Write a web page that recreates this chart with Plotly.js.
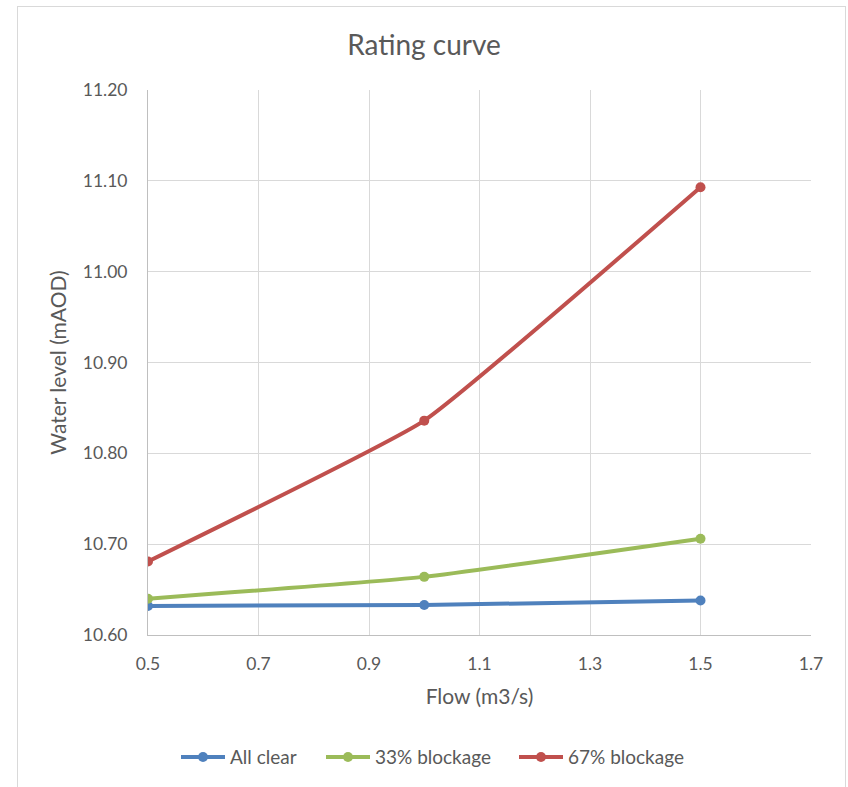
<!DOCTYPE html>
<html><head><meta charset="utf-8">
<script src="https://cdn.plot.ly/plotly-3.0.1.min.js"></script>
<style>
html,body{margin:0;padding:0;background:#fff;}
#wrap{position:relative;width:848px;height:787px;}
#chart{position:absolute;left:0;top:0;width:848px;height:787px;}
#border{position:absolute;left:17px;top:6px;width:829px;height:790px;border:1px solid #d9d9d9;box-sizing:border-box;pointer-events:none;}
</style></head>
<body>
<div id="wrap"><div id="chart"></div><div id="border"></div></div>
<script>
const flow = [0.5, 1.0, 1.5];
const allClear = [10.632, 10.633, 10.638];
const block33 = [10.640, 10.664, 10.706];
const block67 = [10.681, 10.836, 11.093];
const seriesNames = ['All clear', '33% blockage', '67% blockage'];
const colors = ['#4f81bd', '#9bbb59', '#c0504d'];
const xTicks = [0.5, 0.7, 0.9, 1.1, 1.3, 1.5, 1.7];
const yTicks = [10.6, 10.7, 10.8, 10.9, 11.0, 11.1, 11.2];

const FONT = 'Lato, "Open Sans", sans-serif';
const values = [allClear, block33, block67];
const legendIds = ['legend', 'legend2', 'legend3'];
const traces = values.map((v, i) => ({
  x: flow, y: v, name: seriesNames[i], type: 'scatter', mode: 'lines+markers',
  legend: legendIds[i],
  line: {color: colors[i], width: 4, shape: 'spline', smoothing: 0.35},
  marker: {color: colors[i], size: 10}
}));

const legendBase = {orientation: 'h', xanchor: 'left', y: -0.222, yanchor: 'middle', itemwidth: 44,
  font: {size: 19, color: '#595959', family: FONT}, bgcolor: 'rgba(0,0,0,0)'};
const legX = [176, 321, 514].map(px => (px - 148) / 663);

const layout = {
  width: 848, height: 787,
  margin: {l: 148, r: 37, t: 90, b: 151},
  paper_bgcolor: '#fff', plot_bgcolor: '#fff',
  font: {family: FONT, color: '#595959', size: 17.5},
  title: {text: 'Rating curve', font: {size: 28, color: '#595959', family: FONT}, x: 0.5, xanchor: 'center', y: 0.943, yanchor: 'middle'},
  xaxis: {
    range: [0.5, 1.7], tickvals: xTicks, ticktext: xTicks.map(v => String(v)),
    showgrid: true, gridcolor: '#d9d9d9', gridwidth: 1,
    showline: true, linecolor: '#bfbfbf', linewidth: 1, zeroline: false,
    ticks: '', ticklabelstandoff: 13,
    title: {text: 'Flow (m3/s)', font: {size: 21}, standoff: 16}
  },
  yaxis: {
    range: [10.6, 11.2], tickvals: yTicks, ticktext: yTicks.map(v => v.toFixed(2)),
    showgrid: true, gridcolor: '#d9d9d9', gridwidth: 1,
    showline: true, linecolor: '#bfbfbf', linewidth: 1, zeroline: false,
    ticks: '', ticklabelstandoff: 16,
    title: {text: 'Water level (mAOD)', font: {size: 21}, standoff: 10}
  },
  showlegend: true,
  legend: Object.assign({}, legendBase, {x: legX[0]}),
  legend2: Object.assign({}, legendBase, {x: legX[1]}),
  legend3: Object.assign({}, legendBase, {x: legX[2]}),
};
Plotly.newPlot('chart', traces, layout, {displayModeBar: false, staticPlot: true});
</script>
</body></html>
